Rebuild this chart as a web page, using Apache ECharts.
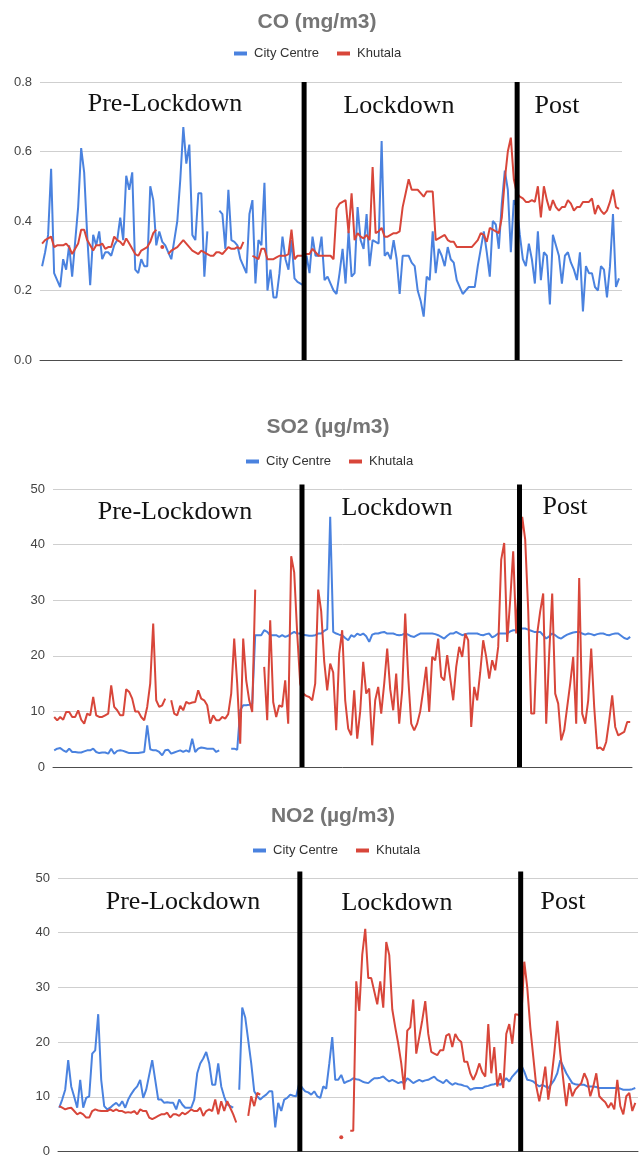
<!DOCTYPE html>
<html>
<head>
<meta charset="utf-8">
<script src="https://cdn.jsdelivr.net/npm/echarts@6/dist/echarts.min.js"></script>
<style>html,body{margin:0;padding:0;background:#fff}#c{width:640px;height:1158px}</style>
</head>
<body>
<div id="c"></div>
<script>
// ---------------- DATA ----------------
const seriesNames = ['City Centre', 'Khutala'];
const phaseLabels = ['Pre-Lockdown', 'Lockdown', 'Post'];

const coCity = [
0.27,0.31,0.36,0.55,0.25,0.23,0.21,0.29,0.26,0.33,
0.24,0.34,0.44,0.61,0.54,0.36,0.215,0.36,0.33,0.37,
0.29,0.31,0.31,0.30,0.33,0.345,0.41,0.345,0.53,0.49,
0.54,0.26,0.25,0.29,0.27,0.27,0.50,0.46,0.33,0.37,
0.34,0.33,0.31,0.29,0.345,0.40,0.52,0.67,0.565,0.62,
0.36,0.345,0.48,0.48,0.24,0.37,null,null,null,0.43,
0.42,0.32,0.49,0.345,0.34,0.33,0.29,0.27,0.25,0.42,
0.46,0.22,0.345,0.33,0.51,0.20,0.26,0.18,0.18,0.25,
0.355,0.29,0.26,0.345,0.235,0.225,0.22,0.215,0.30,0.25,
0.355,0.30,0.30,0.355,0.23,0.24,0.22,0.20,0.19,0.25,
0.32,0.22,0.37,0.24,0.25,0.44,0.345,0.32,0.42,0.27,
0.345,0.34,0.335,0.63,0.30,0.31,0.29,0.345,0.29,0.19,
0.30,0.30,0.30,0.28,0.27,0.20,0.17,0.125,0.24,0.23,
0.37,0.25,0.32,0.30,0.27,0.325,0.29,0.28,0.23,0.21,
0.19,0.20,0.21,0.21,0.21,0.27,0.32,0.37,0.31,0.24,
0.40,0.39,0.32,0.45,0.545,0.49,0.31,0.46,0.44,0.36,
0.29,0.27,0.335,0.29,0.22,0.37,0.23,0.31,0.30,0.16,
0.36,0.33,0.30,0.22,0.30,0.31,0.28,0.26,0.23,0.31,
0.14,0.27,0.25,0.25,0.21,0.20,0.27,0.26,0.18,0.27,
0.42,0.21,0.235
];
const coKhutala = [
0.335,0.345,0.35,0.355,0.325,0.33,0.33,0.33,0.335,0.325,
0.305,0.32,0.335,0.375,0.375,0.345,0.33,0.315,0.33,0.33,
0.335,0.32,0.325,0.325,0.355,0.345,0.34,0.33,0.35,0.335,
0.32,0.305,0.30,0.315,0.32,0.325,0.34,0.365,0.375,null,
0.325,null,0.305,0.315,0.32,0.325,0.335,0.345,0.335,0.325,
0.315,0.31,0.305,0.315,0.31,0.305,0.30,0.30,0.31,0.31,
0.305,0.315,0.325,0.32,0.32,0.325,0.32,0.34,null,null,
0.30,0.295,0.29,0.32,0.32,0.29,0.29,0.29,0.295,0.30,
0.30,0.30,0.305,0.375,0.29,0.30,0.30,0.30,0.305,0.305,
0.32,0.31,0.30,0.30,0.30,0.30,0.30,0.29,0.435,0.45,
0.455,0.46,0.365,0.48,0.345,0.365,0.355,0.35,0.36,0.345,
0.555,0.365,0.37,0.38,0.355,0.355,0.36,0.365,0.365,0.37,
0.44,0.48,0.52,0.49,0.49,0.49,0.48,0.47,0.485,0.485,
0.485,0.345,0.35,0.355,0.36,0.345,0.34,0.34,0.325,0.325,
0.325,0.325,0.325,0.325,0.335,0.345,0.365,0.36,0.34,0.38,
0.375,0.37,0.365,0.41,0.52,0.60,0.64,0.52,0.48,0.47,
0.465,0.455,0.455,0.46,0.455,0.50,0.41,0.50,0.46,0.43,
0.46,0.44,0.43,0.44,0.44,0.46,0.45,0.43,0.44,0.44,
0.455,0.455,0.455,0.465,0.42,0.445,0.43,0.42,0.43,0.455,
0.49,0.44,0.435
];

const so2City = [
3.0,3.3,3.4,3.0,2.7,3.3,2.7,2.7,2.6,2.6,
2.8,3.0,3.0,3.3,2.7,2.5,2.6,2.6,2.4,3.3,
2.4,2.9,3.0,2.9,2.7,2.5,2.5,2.5,2.5,2.6,
2.7,7.5,3.2,3.0,3.0,2.7,2.1,3.0,3.1,2.4,
2.6,2.8,3.0,2.7,3.0,2.7,5.1,2.7,3.3,3.5,
3.4,3.3,3.3,3.3,2.7,3.0,null,null,null,3.3,
3.3,3.1,10.2,11.1,11.1,11.2,11.4,23.7,23.7,23.7,
24.6,24.3,23.7,23.7,23.7,23.4,23.7,23.4,23.6,24.0,
24.3,24.0,24.0,23.8,23.7,23.6,23.6,23.7,24.0,24.0,
24.5,24.8,45,24.3,24.0,23.8,23.7,23.2,22.8,23.7,
23.4,24.0,23.7,24.0,23.5,22.5,23.8,24.0,24.0,24.2,
24.3,24.0,24.0,24.0,23.8,23.7,23.8,24.0,23.8,23.5,
23.4,23.7,24.0,24.0,24.0,24.0,24.0,23.9,23.7,23.4,
23.1,23.6,24.0,24.0,24.3,24.0,23.7,23.9,24.0,24.0,
24.0,24.0,23.8,23.7,23.9,24.0,23.3,23.6,24.0,24.0,
24.0,24.0,24.4,24.6,24.6,24.8,24.9,24.9,24.7,24.5,
24.3,24.3,24.3,23.7,23.1,23.5,24.0,23.7,23.3,23.1,
23.5,23.8,24.0,24.2,24.3,24.3,24.0,23.8,24.0,23.9,
23.7,23.9,24.0,24.0,23.8,23.7,23.9,24.0,24.0,23.6,
23.2,23.0,23.4
];
const so2Khutala = [
9.0,8.4,9.0,8.5,9.9,9.9,9.0,9.0,10.2,8.5,
7.8,9.6,9.3,12.6,9.3,9.0,9.0,9.3,9.6,14.7,
10.8,10.2,9.3,9.3,14.0,13.5,12.3,10.0,10.0,9.0,
8.4,10.8,15.0,25.8,12.0,10.8,11.1,12.3,null,12.0,
9.6,9.3,11.0,10.2,11.7,11.4,11.6,11.7,13.8,12.3,
12.0,11.1,7.8,9.3,8.4,8.4,9.0,8.7,9.5,13.2,
23.1,15.0,4.2,23.1,15.6,12.0,9.9,31.9,null,null,
18.0,8.4,26.4,11.7,9.0,11.1,10.8,15.6,7.8,37.9,
35.0,24.0,15.0,13.2,12.8,12.6,12.0,15.0,31.9,28.0,
19.0,13.8,18.6,17.0,6.6,20.4,24.6,12.0,6.9,5.7,
13.8,5.1,10.0,18.9,13.2,14.1,3.9,12.0,14.4,9.6,
15.0,21.3,14.0,10.2,16.8,7.8,13.8,27.6,16.2,7.8,
6.6,7.8,10.0,13.8,18.0,9.9,19.8,19.2,23.1,16.2,
15.6,20.1,16.0,12.0,18.0,21.6,19.8,24.0,22.8,7.2,
14.4,12.0,17.0,22.8,19.8,15.9,19.2,17.4,21.6,37.3,
40.3,22.5,30.0,38.8,24.0,34.9,45.0,40.9,28.2,9.6,
9.6,24.0,28.0,31.2,7.8,20.4,31.2,13.2,11.4,4.8,
6.6,10.8,15.0,19.8,7.8,34.0,9.6,7.8,12.0,21.3,
10.8,3.3,3.5,3.0,4.5,8.4,12.9,7.2,5.7,6.0,
6.3,8.1,8.1
];

const no2City = [
8.0,9.5,11.3,16.7,11.9,10.0,8.0,13.1,8.0,9.8,
10.1,17.9,18.5,25.1,13.1,8.3,7.7,8.0,8.5,8.9,
8.3,9.2,8.0,9.5,10.5,11.3,11.9,13.1,9.8,11.3,
14.0,16.7,13.1,9.5,9.5,8.9,9.0,8.9,8.9,7.7,
9.5,8.6,8.0,8.0,8.0,9.5,14.3,16.1,17.0,18.2,
16.1,12.2,12.2,16.1,11.9,10.0,8.6,8.3,8.0,null,
11.3,26.3,24.5,20.3,16.1,11.0,10.1,9.5,10.0,10.4,
11.0,11.0,4.4,8.9,7.4,9.5,9.8,10.4,10.2,10.1,
12.5,11.6,11.0,10.8,10.4,11.0,10.1,9.8,11.9,11.5,
16.0,20.9,13.1,13.1,14.0,12.5,12.8,13.0,13.4,13.2,
13.1,12.8,12.6,12.5,13.0,13.4,13.4,13.5,13.7,13.2,
12.8,13.1,12.8,12.5,12.7,12.5,13.4,13.0,12.5,12.8,
13.1,12.8,13.0,13.1,13.4,13.7,13.1,12.8,12.5,13.1,
12.6,12.2,12.5,12.3,12.2,12.0,11.9,11.3,11.5,11.6,
11.6,11.6,11.9,12.0,12.2,12.3,12.5,12.2,12.8,13.4,
12.8,13.7,14.3,14.9,15.8,14.6,13.1,13.0,12.8,12.3,
11.9,12.2,11.9,11.6,12.3,13.1,14.3,16.7,15.5,14.3,
13.4,12.5,12.3,12.2,12.2,12.2,11.9,11.9,11.9,11.8,
11.6,11.6,11.6,11.6,11.6,11.6,11.6,11.5,11.3,11.3,
11.3,11.4,11.6
];
const no2Khutala = [
8.3,8.0,7.7,7.9,8.0,7.4,6.8,7.1,6.8,6.2,
6.2,7.4,7.7,7.5,7.4,7.4,7.4,7.7,7.4,7.7,
7.4,7.4,7.1,7.2,7.1,7.4,6.8,7.7,7.4,7.4,
6.2,5.9,6.2,6.5,6.8,6.8,7.1,6.2,6.8,6.8,
6.5,7.1,6.8,7.2,7.7,7.4,7.4,8.0,6.5,7.4,
7.7,7.4,9.5,6.8,9.2,7.4,9.2,8.0,6.8,5.3,
null,null,null,6.5,10.1,8.3,10.7,10.4,null,null,
null,null,null,null,null,null,null,null,null,null,
null,null,null,null,null,null,null,null,null,null,
null,null,null,null,2.6,null,null,3.8,3.8,31.1,
25.7,36.0,40.7,31.7,31.7,29.3,26.9,31.1,26.3,38.3,
35.9,26.0,22.7,19.7,16.1,11.3,22.1,22.7,27.8,17.9,
20.9,24.0,27.5,21.5,18.2,17.9,17.6,18.5,18.5,21.2,
21.5,19.1,21.5,20.5,20.0,16.4,16.4,14.3,13.1,14.3,
16.1,14.5,13.7,23.3,14.3,19.1,11.9,14.3,11.6,21.5,
23.3,19.7,25.1,25.0,24.5,34.7,29.9,22.7,17.3,11.9,
9.2,11.9,15.5,9.5,13.1,18.0,23.9,17.9,13.1,8.3,
12.5,10.1,11.3,11.9,12.5,14.3,13.1,10.1,11.9,14.3,
10.1,9.5,9.0,8.0,8.9,7.7,13.1,8.3,6.8,10.1,
10.7,7.4,8.9
];

// phase boundaries (day index of the drawn divider lines)
const coBreaks = [87.2, 158.1];
const so2Breaks = [82.6, 155.1];
const no2Breaks = [80.2, 153.8];

// y-axis ranges / ticks
const coTicks = {min: 0, max: 0.8, interval: 0.2, decimals: 1};
const so2Ticks = {min: 0, max: 50, interval: 10, decimals: 0};
const no2Ticks = {min: 0, max: 50, interval: 10, decimals: 0};

// ---------------- LAYOUT / STYLE ----------------
const BLUE = '#4a82df';
const RED = '#d8463a';
const SANS = '"Liberation Sans", Arial, sans-serif';
const SERIF = '"Liberation Serif", "Times New Roman", serif';

const panels = [
  {title: 'CO (mg/m3)', city: coCity, khut: coKhutala, breaks: coBreaks, ticks: coTicks,
   grid: {left: 40, top: 82, width: 582, height: 278}, xMin: -0.7, xMax: 193,
   titlePos: [317, 22], legendPos: [229, 42], barTop: 0.8,
   labels: [[165, 104], [399, 106], [557, 106]]},
  {title: 'SO2 (\u00b5g/m3)', city: so2City, khut: so2Khutala, breaks: so2Breaks, ticks: so2Ticks,
   grid: {left: 53, top: 489, width: 579, height: 278}, xMin: -0.4, xMax: 192.6,
   titlePos: [328, 427], legendPos: [241, 450], barTop: 50.8,
   labels: [[175, 512], [397, 508], [565, 507]]},
  {title: 'NO2 (\u00b5g/m3)', city: no2City, khut: no2Khutala, breaks: no2Breaks, ticks: no2Ticks,
   grid: {left: 58, top: 878, width: 580, height: 278}, xMin: -0.4, xMax: 192.9,
   titlePos: [333, 816], legendPos: [248, 839], barTop: 51.2,
   labels: [[183, 902], [397, 903], [563, 902]]}
];

function toPairs(arr) {
  return arr.map((v, i) => [i, v == null ? '-' : v]);
}
function isolatedSize(arr) {
  return function (val, params) {
    const i = params.dataIndex;
    return (arr[i] != null && arr[i - 1] == null && arr[i + 1] == null) ? 4 : 0;
  };
}

const grids = [], xAxes = [], yAxes = [], series = [], legends = [], graphics = [];

panels.forEach((p, k) => {
  grids.push(Object.assign({containLabel: false}, p.grid));
  xAxes.push({
    type: 'value', gridIndex: k, min: p.xMin, max: p.xMax,
    axisLine: {show: true, onZero: true, lineStyle: {color: '#4d4d4d', width: 1}},
    axisTick: {show: false}, axisLabel: {show: false}, splitLine: {show: false}
  });
  yAxes.push({
    type: 'value', gridIndex: k, min: p.ticks.min, max: p.ticks.max, interval: p.ticks.interval,
    axisLine: {show: false}, axisTick: {show: false},
    axisLabel: {color: '#444', fontSize: 13, fontFamily: SANS, margin: 8,
      formatter: v => v.toFixed(p.ticks.decimals)},
    splitLine: {show: true, lineStyle: {color: '#cfcfcf', width: 1}}
  });
  [[p.city, seriesNames[0], BLUE], [p.khut, seriesNames[1], RED]].forEach(([arr, name, color]) => {
    series.push({
      type: 'line', name: name, xAxisIndex: k, yAxisIndex: k,
      data: toPairs(arr), connectNulls: false,
      showSymbol: true, showAllSymbol: true, symbol: 'circle',
      symbolSize: isolatedSize(arr),
      itemStyle: {color: color},
      lineStyle: {color: color, width: 2},
      emphasis: {disabled: true}, silent: true, z: 2
    });
  });
  series.push({
    type: 'custom', name: 'phase-divider', xAxisIndex: k, yAxisIndex: k,
    data: p.breaks.map(b => [b, 0]), silent: true, z: 10,
    renderItem: function (params, api) {
      const x = api.value(0);
      const a = api.coord([x, 0]);
      const b = api.coord([x, p.barTop]);
      return {type: 'line', shape: {x1: a[0], y1: a[1], x2: b[0], y2: b[1]},
        style: {stroke: '#000', lineWidth: 5}};
    }
  });
  legends.push({
    data: seriesNames, left: p.legendPos[0], top: p.legendPos[1],
    icon: 'rect', itemWidth: 13, itemHeight: 4, itemGap: 18, selectedMode: false,
    textStyle: {fontSize: 13, color: '#333', fontFamily: SANS, padding: [0, 0, 0, 2]}
  });
  graphics.push({
    type: 'text', x: p.titlePos[0], y: p.titlePos[1], z: 20,
    style: {text: p.title, fill: '#757575', font: 'bold 21px ' + SANS,
      textAlign: 'center', textVerticalAlign: 'middle', align: 'center', verticalAlign: 'middle'}
  });
  p.labels.forEach((pos, j) => {
    graphics.push({
      type: 'text', x: pos[0], y: pos[1], z: 20,
      style: {text: phaseLabels[j], fill: '#111', font: '26px ' + SERIF,
        textAlign: 'center', textVerticalAlign: 'middle', align: 'center', verticalAlign: 'middle'}
    });
  });
});

const chart = echarts.init(document.getElementById('c'), null, {renderer: 'canvas'});
chart.setOption({
  animation: false,
  backgroundColor: '#fff',
  grid: grids, xAxis: xAxes, yAxis: yAxes,
  legend: legends, series: series, graphic: graphics
});
</script>
</body>
</html>
